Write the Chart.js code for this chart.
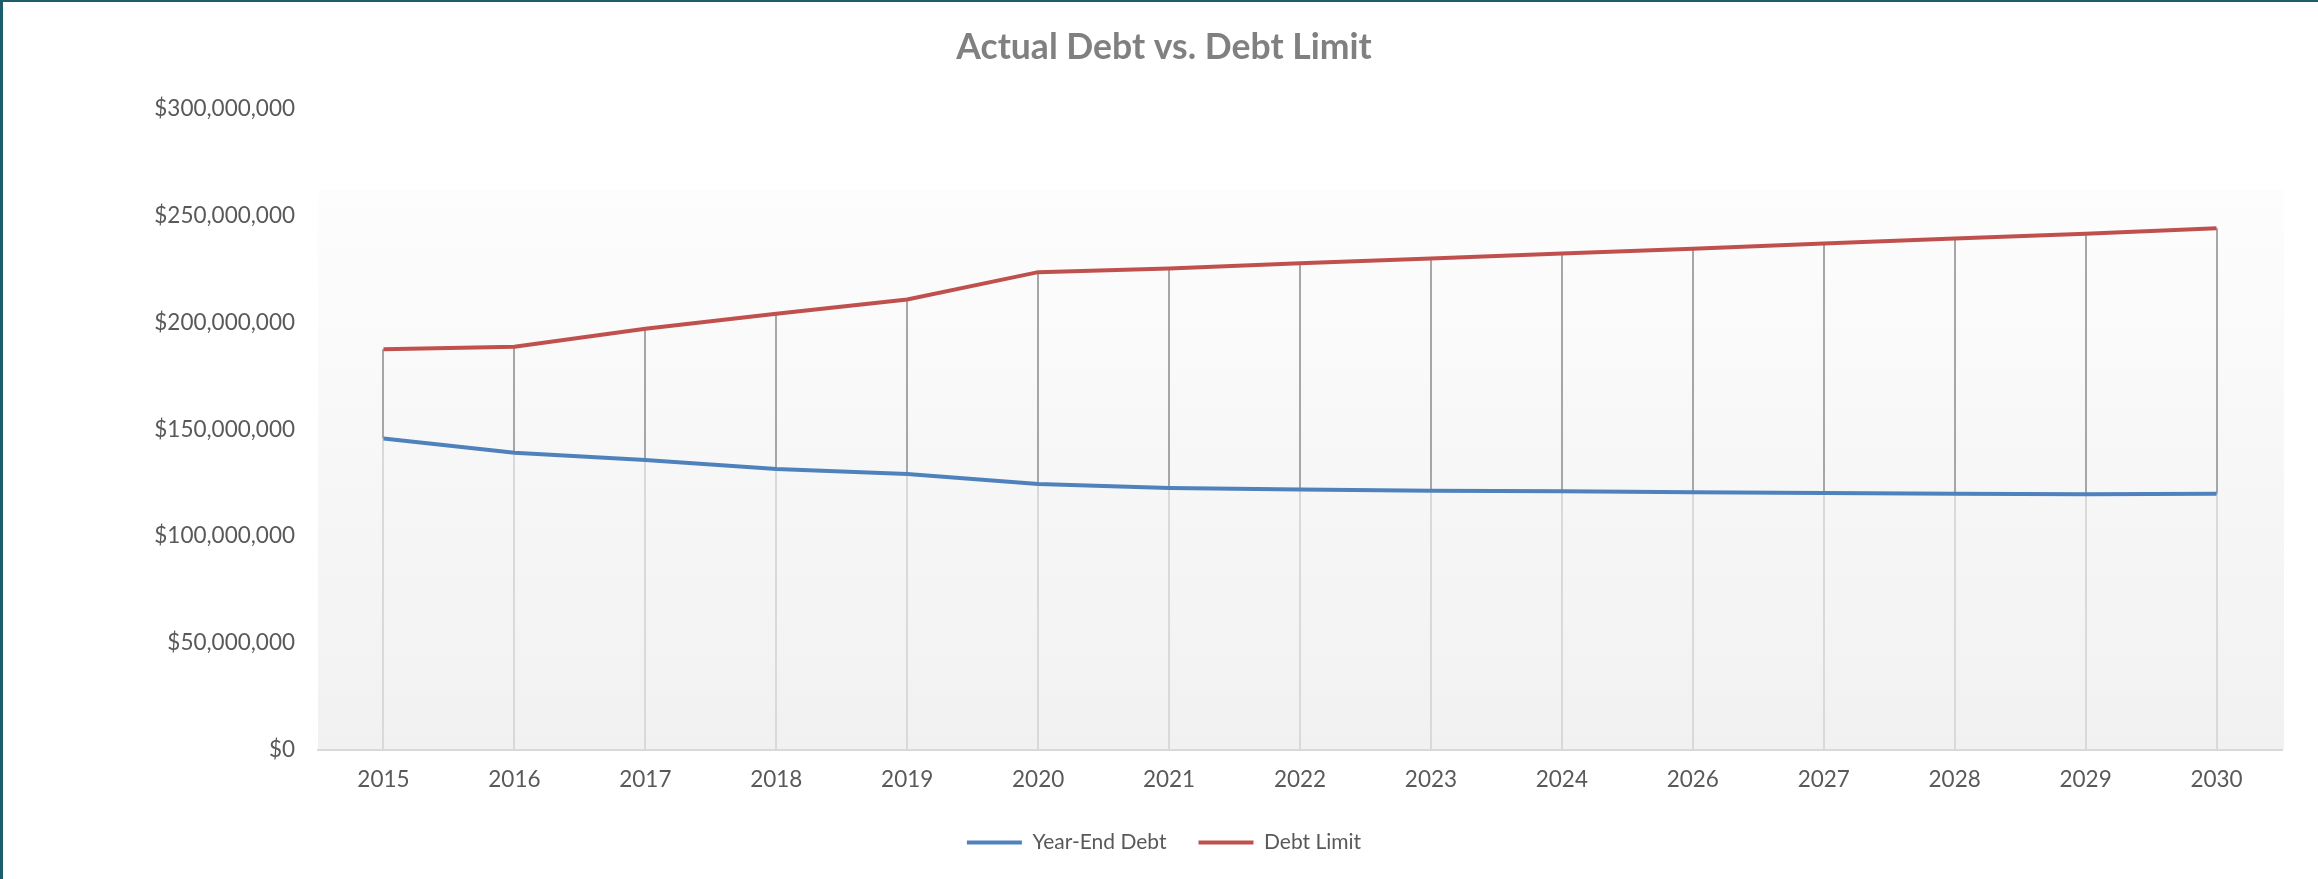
<!DOCTYPE html>
<html>
<head>
<meta charset="utf-8">
<title>Actual Debt vs. Debt Limit</title>
<script src="https://cdn.jsdelivr.net/npm/chart.js@4.4.1/dist/chart.umd.min.js"></script>
<style>
  html, body { margin: 0; padding: 0; background: #fff; }
  #wrap { position: relative; width: 2318px; height: 879px; overflow: hidden; }
  #wrap .edge-top { position: absolute; left: 0; top: 0; width: 100%; height: 2px; background: #1c5e6b; }
  #wrap .edge-left { position: absolute; left: 0; top: 0; width: 3px; height: 100%; background: #1c5e6b; }
  canvas { display: block; }
</style>
</head>
<body>
<div id="wrap">
  <canvas id="chart-debt" width="2318" height="879"></canvas>
  <div class="edge-top"></div>
  <div class="edge-left"></div>
</div>
<script>
// Data
const years = ['2015', '2016', '2017', '2018', '2019', '2020', '2021', '2022', '2023', '2024', '2026', '2027', '2028', '2029', '2030'];
const yearEndDebt = [145700000, 139000000, 135600000, 131400000, 129100000, 124400000, 122600000, 121800000, 121300000, 121000000, 120500000, 120200000, 119900000, 119600000, 119800000];
const debtLimit = [187400000, 188600000, 197000000, 204000000, 210700000, 223500000, 225200000, 227700000, 229900000, 232200000, 234500000, 236900000, 239200000, 241500000, 244000000];
const yTicks = [0, 50000000, 100000000, 150000000, 200000000, 250000000, 300000000];

const FONT = 'Lato, "Open Sans", sans-serif';
const TEXT = '#595959';

// Soft grey gradient behind the plot
const plotBackground = {
    id: 'plotBackground',
    beforeDraw(chart) {
        const { ctx, chartArea: a } = chart;
        const top = a.top + 81;
        const g = ctx.createLinearGradient(0, top, 0, a.bottom);
        g.addColorStop(0, '#fdfdfd');
        g.addColorStop(1, '#f1f1f1');
        ctx.save();
        ctx.fillStyle = g;
        ctx.fillRect(a.left, top, a.right - a.left + 2, a.bottom - top);
        ctx.restore();
    }
};

// Drop lines to the axis + high-low lines between the two series
const dropLines = {
    id: 'dropLines',
    beforeDatasetsDraw(chart) {
        const { ctx, scales: { x, y } } = chart;
        const base = y.getPixelForValue(0);
        ctx.save();
        ctx.lineWidth = 2;
        years.forEach((yr, i) => {
            const px = Math.round(x.getPixelForValue(i));
            const hi = y.getPixelForValue(debtLimit[i]);
            const lo = y.getPixelForValue(yearEndDebt[i]);
            ctx.strokeStyle = '#d9d9d9';
            ctx.beginPath();
            ctx.moveTo(px, lo);
            ctx.lineTo(px, base);
            ctx.stroke();
            ctx.strokeStyle = '#a6a6a6';
            ctx.beginPath();
            ctx.moveTo(px, hi);
            ctx.lineTo(px, lo);
            ctx.stroke();
        });
        ctx.restore();
    }
};

const ctx = document.getElementById('chart-debt').getContext('2d');
new Chart(ctx, {
    type: 'line',
    data: {
        labels: years,
        datasets: [{
            label: 'Year-End Debt',
            data: yearEndDebt,
            borderColor: '#4f81bd',
            backgroundColor: '#4f81bd',
            borderWidth: 4,
            pointRadius: 0,
            pointHoverRadius: 0,
            pointStyle: 'line',
            pointBorderWidth: 4,
            tension: 0,
            fill: false
        }, {
            label: 'Debt Limit',
            data: debtLimit,
            borderColor: '#c0504d',
            backgroundColor: '#c0504d',
            borderWidth: 4,
            pointRadius: 0,
            pointHoverRadius: 0,
            pointStyle: 'line',
            pointBorderWidth: 4,
            tension: 0,
            fill: false
        }]
    },
    options: {
        responsive: false,
        animation: false,
        layout: { padding: { left: 46, right: 36, top: 0, bottom: 16 } },
        plugins: {
            title: {
                display: true,
                text: 'Actual Debt vs. Debt Limit',
                color: '#808080',
                font: { family: FONT, size: 35.5, weight: 'bold' },
                padding: { top: 26, bottom: 40 }
            },
            legend: {
                position: 'bottom',
                labels: {
                    usePointStyle: true,
                    pointStyleWidth: 55,
                    color: TEXT,
                    font: { family: FONT, size: 21 },
                    padding: 32
                }
            },
            tooltip: { enabled: false }
        },
        scales: {
            x: {
                offset: true,
                afterFit(scale) { scale.height = 50; },
                grid: { display: false, drawTicks: false },
                border: { display: true, color: '#d9d9d9', width: 2 },
                ticks: { color: TEXT, font: { family: FONT, size: 22.5 }, padding: 16 }
            },
            y: {
                min: 0,
                max: 300000000,
                afterFit(scale) { scale.width = 272; },
                afterBuildTicks(scale) { scale.ticks = yTicks.map(v => ({ value: v })); },
                grid: { display: false, drawTicks: false },
                border: { display: false },
                ticks: {
                    color: TEXT,
                    font: { family: FONT, size: 22.5 },
                    padding: 23,
                    callback: (v) => '$' + Number(v).toLocaleString('en-US')
                }
            }
        }
    },
    plugins: [plotBackground, dropLines]
});
</script>
</body>
</html>
